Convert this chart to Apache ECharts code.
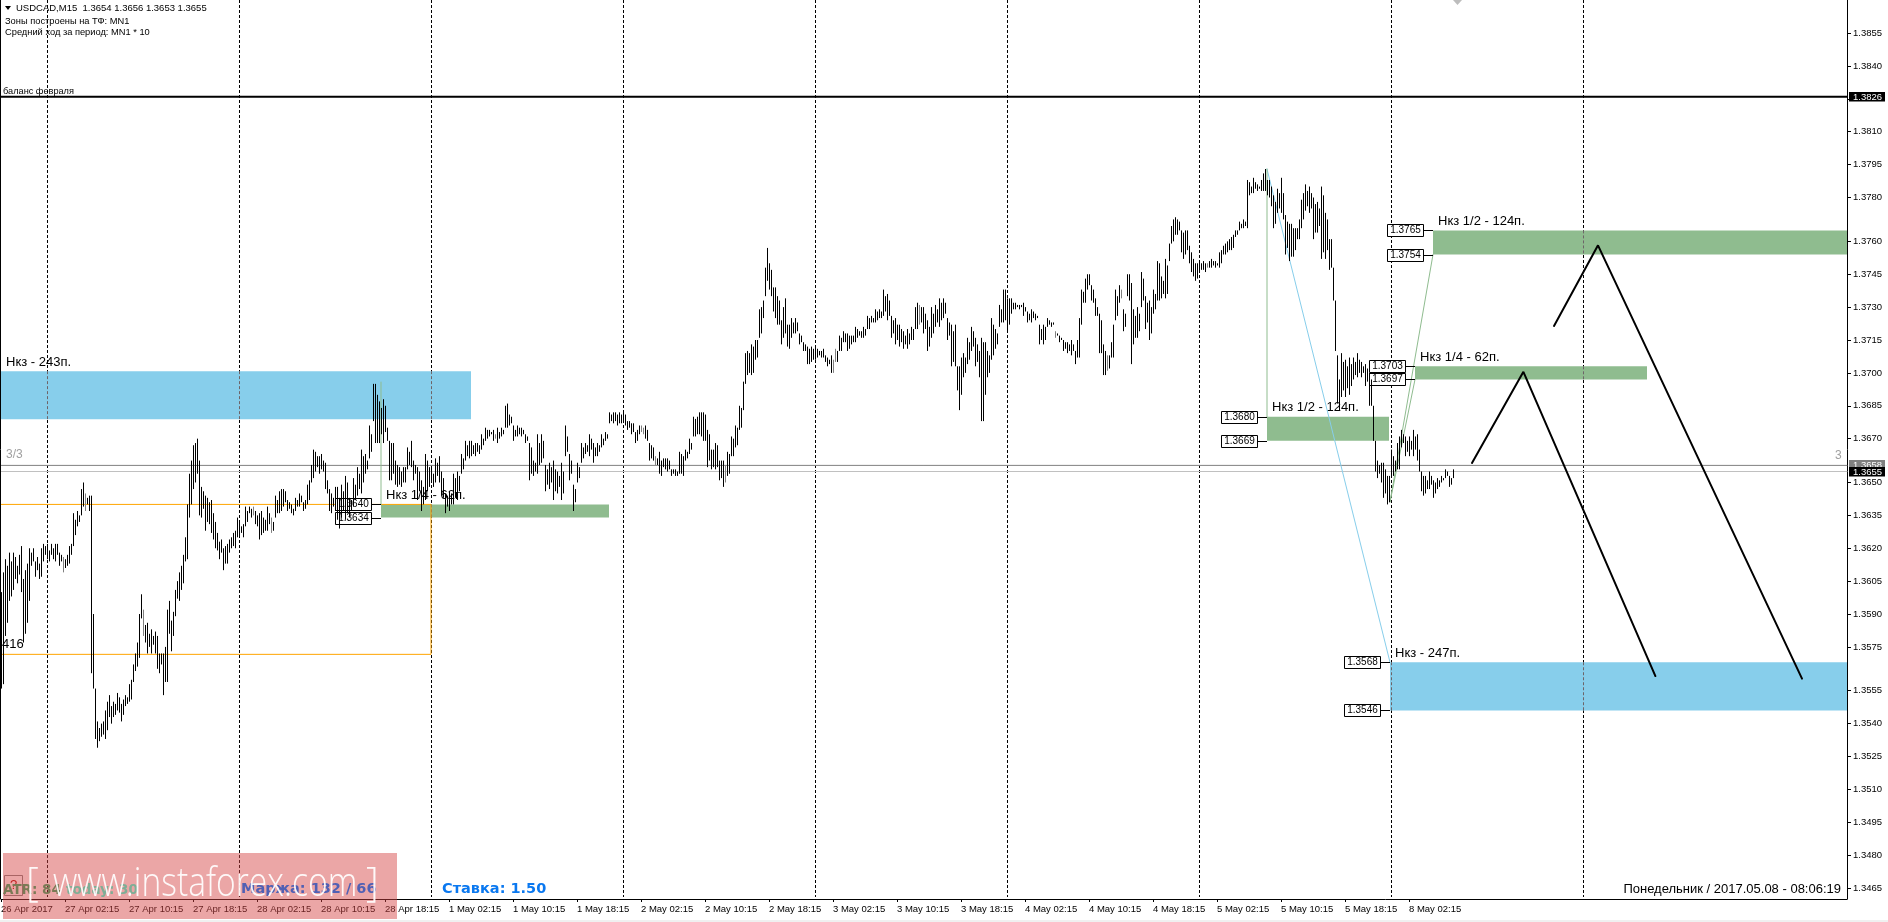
<!DOCTYPE html>
<html>
<head>
<meta charset="utf-8">
<title>USDCAD,M15</title>
<script src="https://cdn.jsdelivr.net/npm/echarts@6/dist/echarts.min.js"></script>
<style>
html, body { margin: 0; padding: 0; background: #fff; }
#main { width: 1888px; height: 922px; }
</style>
</head>
<body>
<div id="main"></div>
<script>
// bar ranges [low, high], in pips above 1.3000, one list per session
const bars26Apr = [
[556,600],[558,609],[580,615],[586,612],[596,618],[598,614],[601,618],[606,616],[604,612],[608,617],
[600,621],[577,606],[581,610],[586,613],[596,620],[612,618],[614,620],[607,614],[610,616],[606,613],
[607,620],[614,622],[617,621]];
const bars27Apr = [
[615,622],[614,619],[617,622],[615,620],[614,622],[617,622],[612,618],[614,617],[609,616],[611,615],
[612,617],[613,621],[617,622],[621,636],[626,633],[630,637],[632,635],[635,647],[639,650],[637,645],
[640,643],[637,644],[563,644],[556,590],[533,556],[529,541],[532,538],[534,540],[535,541],[533,546],
[537,550],[543,553],[540,548],[543,550],[544,549],[546,554],[545,552],[541,549],[544,551],[548,553],
[549,552],[550,558],[551,560],[559,567],[564,572],[566,577],[570,590],[588,599],[580,592],[577,585],
[572,586],[575,581],[572,583],[576,580],[572,582],[565,580],[563,572],[567,572],[553,572],[559,575],
[559,592],[581,596],[573,587],[580,591],[589,601],[597,605],[596,609],[601,612],[604,617],[614,625],
[615,640],[634,654],[640,660],[647,667],[650,668],[654,670],[635,660],[634,648],[638,646],[628,644],
[632,643],[631,641],[627,642],[624,636],[620,632],[619,627],[615,623],[618,624],[610,620],[613,621],
[613,622],[618,624],[620,625],[621,627],[620,628],[625,634]];
const bars28Apr = [
[626,632],[627,630],[625,631],[630,639],[632,637],[636,639],[634,638],[635,639],[631,637],[630,635],
[624,636],[626,637],[627,634],[628,633],[628,639],[631,636],[627,634],[628,632],[634,644],[636,642],
[636,646],[637,647],[639,647],[641,646],[637,642],[638,641],[636,640],[635,638],[637,643],[639,642],
[639,645],[641,644],[637,641],[638,642],[640,649],[642,651],[650,658],[652,665],[655,664],[657,662],
[654,662],[656,663],[655,660],[647,659],[645,651],[637,647],[636,645],[639,643],[637,648],[633,648],
[629,643],[634,649],[637,646],[633,653],[636,650],[634,643],[637,642],[639,652],[642,649],[644,657],
[647,654],[645,665],[650,662],[654,663],[656,660],[661,676],[664,672],[678,695],[668,695],[668,690],
[668,687],[672,684],[668,688],[673,685],[669,675],[651,669],[651,668],[654,668],[649,660],[648,658],
[649,657],[648,655],[650,657],[650,657],[656,666],[658,664],[657,669],[651,660],[654,658],[642,657],
[646,655],[637,651],[640,648],[642,663],[646,660],[648,657]];
const bars1May = [
[650,657],[648,654],[650,661],[653,659],[650,662],[644,655],[643,652],[636,645],[639,644],[637,646],
[640,645],[640,654],[643,652],[642,655],[646,653],[654,663],[656,661],[660,669],[662,667],[661,669],
[662,669],[663,667],[662,668],[664,668],[663,667],[665,672],[667,670],[669,675],[670,674],[671,674],
[672,673],[669,674],[670,672],[668,675],[670,673],[671,675],[672,674],[675,685],[675,686],[676,681],
[677,680],[669,676],[671,674],[671,676],[672,675],[671,675],[672,674],[668,672],[669,671],[651,668],
[654,666],[653,660],[655,659],[654,672],[658,668],[659,672],[661,669],[646,658],[649,656],[647,659],
[650,657],[642,660],[646,656],[645,655],[648,653],[642,659],[645,655],[662,676],[664,671],[651,663],
[654,660],[637,649],[641,647],[650,659],[652,657],[659,668],[661,666],[663,668],[664,667],[662,672],
[665,670],[659,668],[662,666],[662,668],[664,667],[666,672],[667,670],[669,673],[670,672],[677,682],
[678,681],[677,682],[678,682],[676,681],[677,682],[677,681]];
const bars2May = [
[678,682],[676,681],[674,678],[675,678],[672,677],[673,677],[668,673],[669,674],[672,676],[673,676],
[672,675],[670,676],[669,674],[660,668],[661,667],[660,666],[658,662],[658,661],[654,664],[653,660],
[657,661],[656,661],[655,661],[656,660],[653,656],[654,656],[653,656],[653,655],[654,664],[654,663],
[653,662],[660,665],[661,664],[663,670],[665,668],[671,680],[671,679],[672,680],[672,682],[671,682],
[669,682],[669,681],[657,674],[660,672],[656,665],[657,665],[656,668],[657,667],[651,660],[652,660],
[648,660],[650,658],[653,664],[654,663],[662,671],[662,670],[666,676],[667,675],[674,685],[675,684],
[683,696],[695,709],[699,710],[700,709],[699,713],[700,712],[706,715],[707,715],[716,729],[718,730],
[725,733],[735,748],[742,757],[738,750],[735,747],[728,739],[725,739],[722,735],[722,733],[713,724],
[716,730],[718,734],[712,722],[711,722],[716,725],[718,723],[718,725],[719,723],[713,718],[714,717],
[710,714],[710,713],[704,712],[704,711],[705,712]];
const bars3May = [
[706,711],[706,712],[707,711],[708,710],[707,710],[707,711],[705,708],[703,707],[704,706],[700,708],
[700,706],[705,711],[705,710],[710,717],[710,716],[714,719],[714,718],[710,718],[711,717],[713,717],
[714,717],[714,721],[716,720],[717,719],[716,719],[716,721],[717,720],[720,726],[720,725],[723,726],
[723,725],[723,729],[724,728],[725,729],[725,728],[726,738],[728,735],[724,736],[726,733],[716,726],
[718,724],[713,725],[715,722],[712,722],[714,720],[711,719],[713,717],[711,720],[713,718],[715,721],
[715,720],[720,730],[720,732],[722,731],[723,730],[718,730],[720,727],[710,724],[712,721],[716,730],
[718,727],[721,731],[723,729],[721,734],[724,732],[725,734],[727,732],[715,725],[717,723],[703,722],
[705,719],[703,722],[692,703],[683,703],[690,707],[698,709],[700,707],[704,716],[706,714],[710,721],
[712,719],[703,716],[705,713],[698,710],[678,716],[678,714],[690,714],[698,710],[700,708],[706,725],
[708,722],[711,720],[713,718],[721,731],[723,729],[723,738]];
const bars4May = [
[724,738],[719,734],[722,734],[727,734],[729,732],[729,732],[730,731],[729,731],[730,731],[726,732],
[728,730],[723,728],[724,727],[723,729],[725,728],[724,727],[725,726],[713,722],[715,720],[713,722],
[715,721],[721,725],[722,724],[721,723],[722,723],[716,719],[717,718],[714,717],[715,716],[710,715],
[711,714],[709,714],[710,713],[708,715],[710,713],[704,710],[707,715],[707,725],[722,738],[732,737],
[732,743],[738,745],[740,745],[733,740],[732,738],[726,734],[726,730],[709,727],[709,724],[699,713],
[699,710],[701,708],[702,708],[707,714],[707,722],[724,738],[726,735],[732,740],[734,738],[719,729],
[721,727],[735,745],[733,745],[704,741],[713,729],[716,726],[716,730],[719,727],[730,746],[733,743],
[720,735],[723,732],[715,733],[718,730],[727,738],[729,736],[733,751],[733,750],[734,744],[736,742],
[734,752],[736,749],[751,759],[759,767],[760,770],[763,771],[763,770],[765,769],[755,765],[752,764],
[754,765],[756,765],[750,758],[746,755],[744,752],[742,750]];
const bars5May = [
[743,750],[746,751],[747,750],[747,751],[746,750],[748,750],[748,751],[748,752],[749,751],[748,751],
[749,750],[748,755],[750,756],[754,758],[754,759],[755,760],[756,761],[756,762],[757,763],[762,765],
[763,765],[765,769],[766,768],[766,770],[767,769],[766,788],[781,787],[782,785],[782,789],[784,787],
[783,786],[784,785],[783,788],[783,791],[783,793],[781,788],[780,788],[776,785],[766,781],[768,778],
[773,784],[775,782],[773,789],[770,782],[754,772],[757,769],[751,768],[753,768],[753,766],[756,766],
[761,766],[761,770],[766,779],[770,782],[774,786],[776,783],[773,785],[775,782],[761,780],[764,777],
[764,778],[767,775],[752,785],[755,781],[752,773],[756,770],[747,761],[748,761],[733,748],[710,733],
[686,708],[683,697],[689,709],[692,705],[689,706],[693,703],[690,707],[694,704],[697,707],[699,705],
[698,709],[700,706],[698,705],[700,703],[694,704],[696,702],[685,700],[685,697],[669,685],[655,669],
[652,660],[654,658],[650,659],[643,659],[645,656],[640,653]];
const bars8May = [
[641,653],[653,665],[653,662],[655,660],[656,668],[656,671],[666,674],[668,672],[662,671],[664,669],
[662,671],[665,669],[662,674],[665,671],[660,672],[655,665],[646,655],[644,653],[645,653],[647,651],
[647,655],[649,653],[643,651],[645,650],[647,652],[648,651],[650,653],[651,652],[652,656],[653,655],
[648,653],[649,652],[652,656]];

// bars that are grey in the terminal (small body), bar index
const greyBars = [31,42,71,126,135,247,320,321,327,362,416,417,459,527,553,560,603];

// axes
const timeTickIdx = [0,32,64,96,128,160,192,224,256,288,320,352,384,416,448,480,512,544,576,608,640,672,704];
const timeLabels = ['26 Apr 2017','27 Apr 02:15','27 Apr 10:15','27 Apr 18:15','28 Apr 02:15','28 Apr 10:15','28 Apr 18:15',
	'1 May 02:15','1 May 10:15','1 May 18:15','2 May 02:15','2 May 10:15','2 May 18:15','3 May 02:15','3 May 10:15','3 May 18:15',
	'4 May 02:15','4 May 10:15','4 May 18:15','5 May 02:15','5 May 10:15','5 May 18:15','8 May 02:15'];
const priceTicks = [1.3855,1.3840,1.3825,1.3810,1.3795,1.3780,1.3760,1.3745,1.3730,1.3715,1.3700,1.3685,1.3670,
	1.3650,1.3635,1.3620,1.3605,1.3590,1.3575,1.3555,1.3540,1.3525,1.3510,1.3495,1.3480,1.3465];
const priceMin = 1.34600;
const priceMax = 1.38701;
const barSlots = 923;

// period separators, bar index
const separatorIdx = [23,119,215,311,407,503,599,695,791];

// zones: start bar, end bar, upper price, lower price
const blueZones = [[0,235,1.37008,1.36789],[694.5,923,1.3568,1.3546]];
const blueZoneNames = ['Нкз - 243п.','Нкз - 247п.'];
const greenZones = [[190,304,1.3640,1.3634],[633,694,1.3680,1.3669],[707,823,1.3703,1.3697],[716,923,1.3765,1.3754]];
const greenZoneNames = ['Нкз 1/4 - 62п.','Нкз 1/2 - 124п.','Нкз 1/4 - 62п.','Нкз 1/2 - 124п.'];

// boxed prices: bar of the zone edge, price
const priceBoxes = [[190,1.3640],[190,1.3634],[633,1.3680],[633,1.3669],[707,1.3703],[707,1.3697],
	[716,1.3765],[716,1.3754],[694.5,1.3568],[694.5,1.3546]];

// drawn lines
const balanceLine = [[0,1.3826],[923,1.3826]];
const askLine = [[0,1.36578],[923,1.36578]];
const bidLine = [[0,1.3655],[923,1.3655]];
const orangeBox = [[0,1.3640],[215,1.3640],[215,1.35716],[0,1.35716]];
const greenThin = [
	[[190,1.36958],[190,1.3640]],
	[[633,1.3793],[633,1.3680]],
	[[694.5,1.36411],[707,1.3697]],
	[[694.5,1.36411],[716,1.3754]]];
const blueThin = [[633,1.3793],[694.5,1.3568]];
const forecastOne = [[735.5,1.36589],[761.2,1.37005],[827.2,1.35617]];
const forecastTwo = [[776.5,1.37214],[798.5,1.37582],[900.5,1.35605]];

// tags on the price scale
const priceTags = [[1.3826,'#000'],[1.36578,'#808080'],[1.3655,'#000']];

const bars = [].concat(bars26Apr,bars27Apr,bars28Apr,bars1May,bars2May,bars3May,bars4May,bars5May,bars8May);
const textFont = '"Liberation Sans", Arial, sans-serif';

function thinLine(points, color, width) {
	return {
		type: 'line', data: points, showSymbol: false, silent: true, z: 3,
		lineStyle: { color: color, width: width, cap: 'round' }
	};
}

function zoneSeries(zones, names, color) {
	return {
		type: 'custom', silent: true, z: 2, clip: true,
		data: zones,
		encode: { x: [0,1], y: [2,3] },
		renderItem: function (params, api) {
			const i = params.dataIndex;
			const p0 = api.coord([zones[i][0], zones[i][2]]);
			const p1 = api.coord([zones[i][1], zones[i][3]]);
			const children = [{
				type: 'rect',
				shape: { x: p0[0], y: p0[1], width: p1[0] - p0[0], height: p1[1] - p0[1] },
				style: { fill: color }
			}, {
				type: 'text',
				style: { text: names[i], x: p0[0] + 5, y: p0[1] - 9, fill: '#000', font: '13px ' + textFont, verticalAlign: 'middle' }
			}];
			separatorIdx.forEach(function (s) {
				if (s > zones[i][0] && s < zones[i][1]) {
					const sx = Math.round(api.coord([s, 0])[0]) + 0.5;
					children.push({
						type: 'line',
						shape: { x1: sx, y1: p0[1], x2: sx, y2: p1[1] },
						style: { stroke: '#6e6468', lineWidth: 1, lineDash: [3,2] }
					});
				}
			});
			return { type: 'group', children: children };
		}
	};
}

const option = {
	animation: false,
	backgroundColor: '#fff',
	grid: { left: 1, right: 41, top: 0, bottom: 23, outerBoundsMode: 'none' },
	xAxis: {
		type: 'value', min: 0, max: barSlots, splitLine: { show: false },
		axisLine: { onZero: false, lineStyle: { color: '#000', width: 1 } },
		axisTick: { show: true, length: 3, customValues: timeTickIdx, lineStyle: { color: '#000' } },
		axisLabel: {
			customValues: timeTickIdx, align: 'left', margin: 5, color: '#000',
			fontFamily: 'Liberation Sans', fontSize: 9.5, hideOverlap: false,
			formatter: function (v) { return timeLabels[timeTickIdx.indexOf(v)]; }
		}
	},
	yAxis: {
		type: 'value', position: 'right', min: priceMin, max: priceMax, scale: true, splitLine: { show: false },
		axisLine: { show: true, onZero: false, lineStyle: { color: '#000', width: 1 } },
		axisTick: { show: true, length: 4, customValues: priceTicks, lineStyle: { color: '#000' } },
		axisLabel: {
			customValues: priceTicks, margin: 6, color: '#000', fontFamily: 'Liberation Sans', fontSize: 9.5,
			formatter: function (v) { return v.toFixed(4); }
		}
	},
	series: [
		// period separators
		{
			type: 'custom', silent: true, z: 1,
			data: separatorIdx.map(function (s) { return [s]; }),
			encode: { x: 0 },
			renderItem: function (params, api) {
				const sx = Math.round(api.coord([api.value(0), priceMax])[0]) + 0.5;
				return {
					type: 'line',
					shape: { x1: sx, y1: params.coordSys.y, x2: sx, y2: params.coordSys.y + params.coordSys.height - 2 },
					style: { stroke: '#000', lineWidth: 1, lineDash: [3,2] }
				};
			}
		},
		thinLine(askLine, '#808080', 1),
		thinLine(bidLine, '#c0c0c0', 1),
		zoneSeries(blueZones, blueZoneNames, '#87ceeb'),
		zoneSeries(greenZones, greenZoneNames, '#8fbc8f'),
		thinLine(balanceLine, '#000', 2),
		thinLine(orangeBox, '#ffa500', 1),
		thinLine(blueThin, '#87ceeb', 1),
		thinLine(greenThin[0], '#8fbc8f', 1),
		thinLine(greenThin[1], '#8fbc8f', 1),
		thinLine(greenThin[2], '#8fbc8f', 1),
		thinLine(greenThin[3], '#8fbc8f', 1),
		thinLine(forecastOne, '#000', 2),
		thinLine(forecastTwo, '#000', 2),
		// boxed prices with their connectors
		{
			type: 'custom', silent: true, z: 4, clip: false,
			data: priceBoxes,
			encode: { x: 0, y: 1 },
			renderItem: function (params, api) {
				const p = api.coord([api.value(0), api.value(1)]);
				const right = Math.round(p[0]) - 9.5;
				const cy = Math.round(p[1]) + 0.5;
				return {
					type: 'group',
					children: [{
						type: 'line',
						shape: { x1: right, y1: cy, x2: p[0], y2: cy },
						style: { stroke: '#000', lineWidth: 1 }
					}, {
						type: 'rect',
						shape: { x: right - 36, y: cy - 6, width: 36, height: 12 },
						style: { fill: '#fff', stroke: '#000', lineWidth: 1 }
					}, {
						type: 'text',
						style: { text: api.value(1).toFixed(4), x: right - 18, y: cy, align: 'center', verticalAlign: 'middle', fill: '#000', font: '10px ' + textFont }
					}]
				};
			}
		},
		// price bars
		{
			type: 'custom', silent: true, z: 5,
			data: bars.map(function (b, i) { return [i, 1.3 + b[0] / 10000, 1.3 + b[1] / 10000]; }),
			encode: { x: 0, y: [1,2] },
			renderItem: function (params, api) {
				const lo = api.coord([api.value(0), api.value(1)]);
				const hi = api.coord([api.value(0), api.value(2)]);
				const bx = Math.round(lo[0]) + 0.5;
				return {
					type: 'line',
					shape: { x1: bx, y1: hi[1], x2: bx, y2: lo[1] },
					style: { stroke: greyBars.indexOf(params.dataIndex) >= 0 ? '#808080' : '#000', lineWidth: 1 }
				};
			}
		},
		// tags on the price scale
		{
			type: 'custom', silent: true, z: 6, clip: false,
			data: priceTags.map(function (t) { return [barSlots, t[0]]; }),
			encode: { x: 0, y: 1 },
			renderItem: function (params, api) {
				const p = api.coord([api.value(0), api.value(1)]);
				return {
					type: 'group',
					children: [{
						type: 'rect',
						shape: { x: p[0] + 2, y: Math.round(p[1]) - 5, width: 36, height: 9.5 },
						style: { fill: priceTags[params.dataIndex][1] }
					}, {
						type: 'text',
						style: { text: api.value(1).toFixed(4), x: p[0] + 6, y: Math.round(p[1]), verticalAlign: 'middle', fill: '#fff', font: '9.5px ' + textFont }
					}]
				};
			}
		}
	],
	graphic: [
		{ type: 'rect', z: 20, shape: { x: 0, y: 920, width: 1888, height: 2 }, style: { fill: '#f0f0f0' } },
		{ type: 'line', z: 20, shape: { x1: 0.5, y1: 0, x2: 0.5, y2: 899 }, style: { stroke: '#000', lineWidth: 1 } },
		{ type: 'polygon', z: 20, shape: { points: [[1453,0],[1462,0],[1457.5,5]] }, style: { fill: '#bdbdbd' } },
		{ type: 'polygon', z: 20, shape: { points: [[5,6],[11,6],[8,10]] }, style: { fill: '#000' } },
		{ type: 'text', z: 20, style: { text: 'USDCAD,M15  1.3654 1.3656 1.3653 1.3655', x: 16, y: 8, verticalAlign: 'middle', fill: '#000', font: '9.5px ' + textFont } },
		{ type: 'text', z: 20, style: { text: 'Зоны построены на ТФ: MN1', x: 5, y: 21, verticalAlign: 'middle', fill: '#000', font: '9.3px ' + textFont } },
		{ type: 'text', z: 20, style: { text: 'Средний ход за период: MN1 * 10', x: 5, y: 32, verticalAlign: 'middle', fill: '#000', font: '9.3px ' + textFont } },
		{ type: 'text', z: 20, style: { text: 'баланс февраля', x: 3, y: 91, verticalAlign: 'middle', fill: '#000', font: '9.2px ' + textFont } },
		{ type: 'text', z: 20, style: { text: '3/3', x: 6, y: 455, verticalAlign: 'middle', fill: '#a0a0a0', font: '12px ' + textFont } },
		{ type: 'text', z: 20, style: { text: '3', x: 1835, y: 456, verticalAlign: 'middle', fill: '#a0a0a0', font: '12px ' + textFont } },
		{ type: 'text', z: 20, style: { text: '416', x: 2, y: 644, verticalAlign: 'middle', fill: '#000', font: '13px ' + textFont } },
		{ type: 'text', z: 20, style: { text: 'Понедельник / 2017.05.08 - 08:06:19', x: 1841, y: 889, align: 'right', verticalAlign: 'middle', fill: '#000', font: '13px ' + textFont } },
		{ type: 'rect', z: 20, shape: { x: 4.5, y: 875.5, width: 18, height: 20 }, style: { fill: 'none', stroke: '#808080', lineWidth: 1 } },
		{ type: 'text', z: 20, style: { text: '?', x: 13.5, y: 885, align: 'center', verticalAlign: 'middle', fill: '#b00000', font: '13px ' + textFont } },
		{ type: 'text', z: 21, style: { text: 'Ставка: 1.50', x: 442, y: 889, verticalAlign: 'middle', fill: '#0a78f0', font: 'bold 14.5px "DejaVu Sans"' } },
		// watermark, the small readouts show through it
		{ type: 'rect', z: 30, shape: { x: 3, y: 853, width: 394, height: 66 }, style: { fill: 'rgba(214,70,70,0.48)' } },
		{ type: 'text', z: 31, style: { text: 'ATR: 84', x: 3, y: 890, verticalAlign: 'middle', fill: '#7a7a55', font: 'bold 13.5px "DejaVu Sans"' } },
		{ type: 'text', z: 31, style: { text: 'today: 30', x: 66, y: 890, verticalAlign: 'middle', fill: '#7fae96', font: 'bold 13.5px "DejaVu Sans"' } },
		{ type: 'text', z: 31, style: { text: 'Маржа: 132 / 66', x: 241, y: 889, verticalAlign: 'middle', fill: '#5060b4', font: 'bold 14.5px "DejaVu Sans"' } },
		{ type: 'text', z: 32, style: { text: '[', x: 26, y: 885, verticalAlign: 'middle', fill: 'rgba(255,255,255,0.92)', font: '300 40px "Open Sans"' } },
		{
			type: 'group', z: 32, x: 53, y: 885, scaleX: 0.84,
			children: [{ type: 'text', z: 32, style: { text: 'www.instaforex.com', x: 0, y: 0, verticalAlign: 'middle', fill: 'rgba(255,255,255,0.92)', font: '300 40px "Open Sans"' } }]
		},
		{ type: 'text', z: 32, style: { text: ']', x: 366, y: 885, verticalAlign: 'middle', fill: 'rgba(255,255,255,0.92)', font: '300 40px "Open Sans"' } }
	]
};

const myChart = echarts.init(document.getElementById('main'));
myChart.setOption(option);
</script>
</body>
</html>
